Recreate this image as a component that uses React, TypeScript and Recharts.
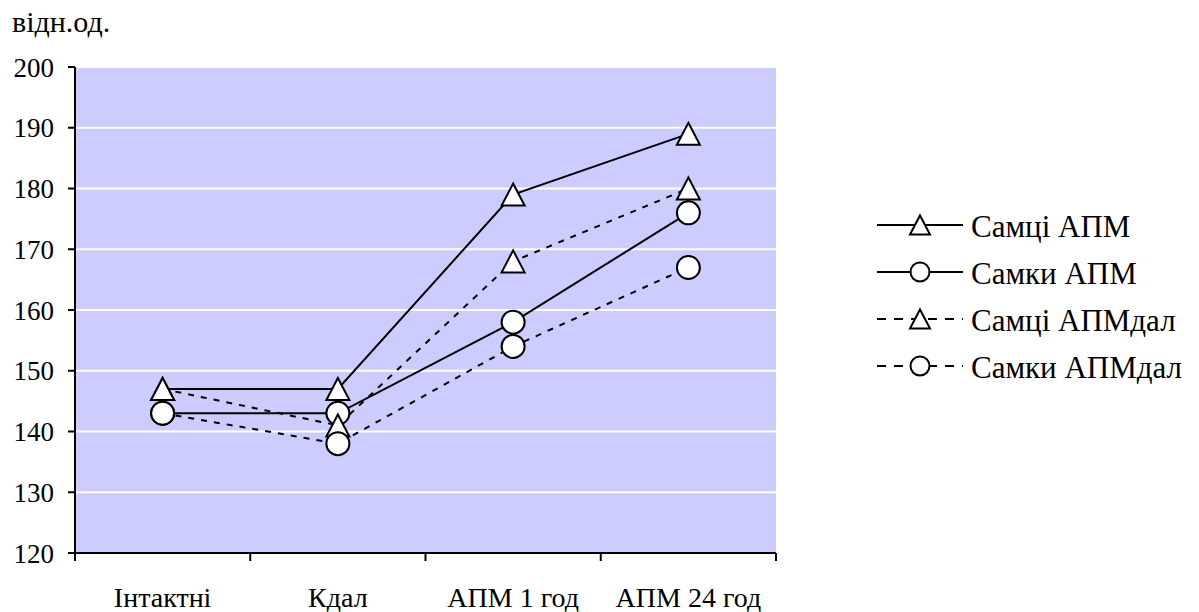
import React from "react";
import {
  LineChart,
  Line,
  XAxis,
  YAxis,
  CartesianGrid,
} from "recharts";

const groups = ["Інтактні", "Кдал", "АПМ 1 год", "АПМ 24 год"];
const maleApm = [147, 147, 179, 189];
const femaleApm = [143, 143, 158, 176];
const maleApmDal = [147, 141, 168, 180];
const femaleApmDal = [143, 138, 154, 167];
const yTicks = [120, 130, 140, 150, 160, 170, 180, 190, 200];

const FONT = "'Liberation Serif', 'Times New Roman', serif";
const PLOT_LEFT = 75;
const PLOT_RIGHT = 776;
const PLOT_TOP = 67;
const PLOT_BOTTOM = 553;
const W = 1199;
const H = 612;
const HALF_BAND = (PLOT_RIGHT - PLOT_LEFT) / groups.length / 2;

const data = groups.map((g, i) => ({
  group: g,
  maleApm: maleApm[i],
  femaleApm: femaleApm[i],
  maleApmDal: maleApmDal[i],
  femaleApmDal: femaleApmDal[i],
}));

const Triangle = (props: any) => {
  const { cx, cy } = props;
  if (cx == null || cy == null) return null;
  return (
    <polygon
      points={`${cx},${cy - 11} ${cx + 11.5},${cy + 11} ${cx - 11.5},${cy + 11}`}
      fill="#fff"
      stroke="#000"
      strokeWidth={2}
    />
  );
};

const Circle = (props: any) => {
  const { cx, cy } = props;
  if (cx == null || cy == null) return null;
  return <circle cx={cx} cy={cy} r={11.5} fill="#fff" stroke="#000" strokeWidth={2} />;
};

// category label in the middle of each band, tick marks on band edges
const XTick = (props: any) => {
  const { x, payload, index } = props;
  const y0 = PLOT_BOTTOM;
  return (
    <g>
      <line x1={x - HALF_BAND} y1={y0} x2={x - HALF_BAND} y2={y0 + 8} stroke="#000" strokeWidth={2} />
      {index === groups.length - 1 && (
        <line x1={x + HALF_BAND} y1={y0} x2={x + HALF_BAND} y2={y0 + 8} stroke="#000" strokeWidth={2} />
      )}
      <text x={x} y={y0 + 54} textAnchor="middle" fontFamily={FONT} fontSize={28} fill="#000">
        {payload.value}
      </text>
    </g>
  );
};

const series = [
  { key: "maleApm", name: "Самці АПМ", dash: undefined, marker: "tri" },
  { key: "femaleApm", name: "Самки АПМ", dash: undefined, marker: "circ" },
  { key: "maleApmDal", name: "Самці АПМдал", dash: "6 7", marker: "tri" },
  { key: "femaleApmDal", name: "Самки АПМдал", dash: "6 7", marker: "circ" },
];

const Overlay = () => (
  <svg width={W} height={H} style={{ position: "absolute", left: 0, top: 0, pointerEvents: "none" }}>
    <text x={12} y={32} fontFamily={FONT} fontSize={30} fill="#000">
      відн.од.
    </text>
    {series.map((s, i) => {
      const y = 225 + i * 47;
      return (
        <g key={s.key}>
          <line
            x1={877}
            y1={y}
            x2={963}
            y2={y}
            stroke="#000"
            strokeWidth={2}
            strokeDasharray={s.dash ? "9 8" : undefined}
          />
          {s.marker === "tri" ? (
            <polygon
              points={`920,${y - 9.5} 930,${y + 9.5} 910,${y + 9.5}`}
              fill="#fff"
              stroke="#000"
              strokeWidth={2}
            />
          ) : (
            <circle cx={920} cy={y} r={9.5} fill="#fff" stroke="#000" strokeWidth={2} />
          )}
          <text x={971} y={y + 12} fontFamily={FONT} fontSize={31} fill="#000">
            {s.name}
          </text>
        </g>
      );
    })}
  </svg>
);

export default function App() {
  return (
    <div style={{ position: "absolute", left: 0, top: 0, width: W, height: H, background: "#fff" }}>
      <LineChart
        width={W}
        height={H}
        data={data}
        margin={{ top: PLOT_TOP, right: W - PLOT_RIGHT, bottom: 19, left: 15 }}
      >
        <CartesianGrid
          vertical={false}
          fill="#CCCCFF"
          fillOpacity={1}
          stroke="#fff"
          strokeWidth={2}
        />
        <XAxis
          dataKey="group"
          height={40}
          padding={{ left: HALF_BAND, right: HALF_BAND }}
          axisLine={{ stroke: "#000", strokeWidth: 2 }}
          tickLine={false}
          tick={<XTick />}
          interval={0}
        />
        <YAxis
          width={60}
          domain={[120, 200]}
          ticks={yTicks}
          interval={0}
          axisLine={{ stroke: "#000", strokeWidth: 2 }}
          tickLine={{ stroke: "#000", strokeWidth: 2 }}
          tickSize={7}
          tickMargin={14}
          tick={{ fontFamily: FONT, fontSize: 27, fill: "#000" }}
        />
        {series.map((s) => (
          <Line
            key={s.key}
            dataKey={s.key}
            name={s.name}
            stroke="#000"
            strokeWidth={2}
            strokeDasharray={s.dash}
            dot={s.marker === "tri" ? <Triangle /> : <Circle />}
            isAnimationActive={false}
          />
        ))}
      </LineChart>
      <Overlay />
    </div>
  );
}
